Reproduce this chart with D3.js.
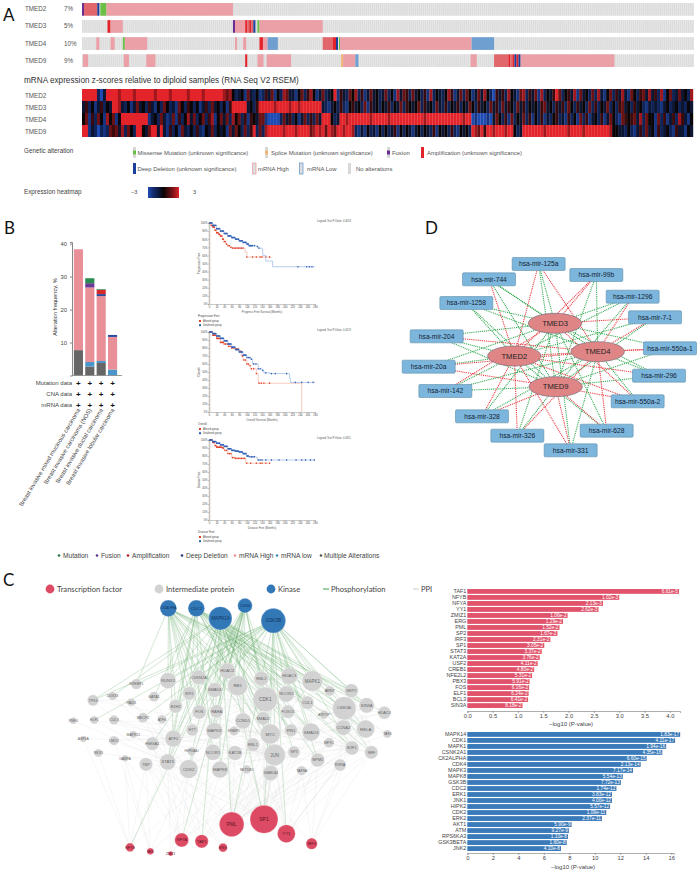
<!DOCTYPE html>
<html>
<head>
<meta charset="utf-8">
<script src="https://cdn.jsdelivr.net/npm/d3@7"></script>
<style>
body{margin:0;background:#fff;}
text{font-family:"Liberation Sans",Arial,sans-serif;}
.lato text, text.lato{font-family:Lato,"Liberation Sans",sans-serif;}
</style>
</head>
<body>
<svg id="fig" width="699" height="875"></svg>
<script>
// ---- panel A data
var genes=["TMED2","TMED3","TMED4","TMED9"];
var genePct=["7%","5%","10%","9%"];
var sampleCount=300;
// runs along the samples: start,end,type
var runsTMED2=[[0,1,"F"],[1,7.5,"P"],[7.5,8.5,"D"],[9,12,"M"],[12,74,"H"]];
var runsTMED3=[[12.5,14,"A"],[14,20,"H"],[74,75,"F"],[75,80,"H"],[80,81,"A"],[81,82,"P"],[82,83,"A"],[83,84,"P"],[84,85,"D"],[86,87,"M"],[87,118,"H"]];
var runsTMED4=[[7,8.5,"H"],[14,16,"H"],[20,21,"M"],[21,32,"H"],[75,76,"H"],[79,80.5,"H"],[87,88.7,"A"],[88.7,91,"H"],[91,96,"L"],[118,123,"P"],[123,124.5,"A"],[124.5,125.5,"D"],[126,126.5,"M"],[126.5,191,"H"],[191,202,"L"]];
var runsTMED9=[[0.5,3,"H"],[20.5,23,"H"],[31.5,36,"H"],[80,81,"A"],[86,89,"H"],[90.5,102.5,"H"],[127,128,"S"],[128,134,"H"],[134,135.5,"L"],[190.5,193.5,"H"],[202,209,"P"],[209,210,"A"],[210,211,"P"],[211,212,"A"],[212,213,"D"],[213,214,"A"],[214,215,"D"],[215,261,"H"]];
var allRuns=[runsTMED2,runsTMED3,runsTMED4,runsTMED9];

// expression levels per column, 0 = -3 ... 8 = +3
var heatTMED2="8888820388"+"8878888788"+"8888788887"+"8888878888"+"7888888767"+"4234163241"+"2536142763"+"3146257413"+"6234815326"+"4725136342"+"3624173652"+"6342517243"+"2475136264"+"1363742053"+"5274316725"+"3617243586"+"2453716342"+"6273146253"+"7316425637"+"3527146236"+"3427";
var heatTMED3="3524135243"+"8873241363"+"4253142642"+"3164254241"+"3526342415"+"8888834258"+"8888788887"+"8878888888"+"3213425214"+"5342615342"+"4352436254"+"3462534263"+"2524352436"+"4253426352"+"6354263524"+"3425634253"+"5264253426"+"2524362425"+"6342534213"+"2321342342"+"3243";
var heatTMED4="4615264174"+"6148888888"+"8813426312"+"6152473624"+"6257146362"+"7462515436"+"6100002635"+"2413625263"+"8884238878"+"8888887888"+"8878888888"+"8888788888"+"8888888788"+"0100010364"+"2516243625"+"1425132452"+"3152416251"+"3425136421"+"6545637264"+"4162513527"+"5314";
var heatTMED9="8813202126"+"5637264288"+"4368838315"+"2416324252"+"1436243416"+"3642625826"+"2788888788"+"8788886787"+"8687688788"+"7213142314"+"2423514243"+"1342432514"+"3425214342"+"8768588788"+"8788423888"+"8888788888"+"8878888788"+"8888887443"+"3242135263"+"4152342153"+"3143";
var heatRows=[heatTMED2,heatTMED3,heatTMED4,heatTMED9];

// ---- panel B data
var cancerTypes=["Breast invasive mixed mucinous carcinoma","Breast invasive carcinoma (NOS)","Breast invasive ductal carcinoma","Breast invasive lobular carcinoma"];
var altMultiple=[7.7,2.7,3.8,0];
var altLow=[0,1.4,0.6,1.8];
var altHigh=[30.6,22.6,19.7,9.9];
var altDeep=[0,0,0.6,0.6];
var altAmp=[0,0,1.3,0];
var altFusion=[0,1.3,0,0];
var altMutation=[0,1.5,0.2,0];
var freqTicks=[10,20,30,40];
var dataRows=["Mutation data","CNA data","mRNA data"];

var kmProgAltered=[[0,100],[5,97],[10,95],[15,91],[20,88],[25,86],[30,84],[35,80],[40,77],[45,74],[50,72],[55,70],[60,69],[90,69],[95,64],[100,58],[165,58]];
var kmProgUnaltered=[[0,100],[10,97],[20,93],[30,90],[40,87],[50,84],[60,82],[70,80],[80,78],[90,76],[100,74],[105,72],[125,71],[130,69],[140,68],[142,60],[150,53],[168,46],[280,46]];
var kmOverAltered=[[0,100],[10,96],[20,92],[30,87],[40,85],[50,82],[60,80],[70,79],[80,76],[85,70],[90,65],[100,60],[105,58],[110,54],[120,54],[125,48],[130,40],[131,36],[245,36],[245,0]];
var kmOverUnaltered=[[0,100],[10,98],[20,95],[30,92],[40,89],[50,85],[60,81],[70,78],[80,75],[90,71],[100,68],[110,66],[115,60],[125,60],[130,54],[140,52],[145,49],[160,48],[210,48],[213,42],[215,37],[280,37]];
var kmFreeAltered=[[0,100],[10,97],[15,93],[20,91],[35,90],[40,87],[50,83],[60,78],[70,77],[95,77],[97,71],[160,71]];
var kmFreeUnaltered=[[0,100],[10,98],[20,96],[30,94],[40,92],[50,89],[60,87],[70,86],[80,85],[90,83],[100,80],[105,79],[125,78],[128,75],[280,75]];
var censorProgAltered=[2,4,6,8,10,12,14,16,18,20,22,24,26,28,30,32,34,36,38,40,43,46,50,54,58,62,66,70,74,78,82,86,90,100,115,125,135,140,150,160];
var censorProgUnaltered=[2,4,6,8,10,12,14,16,18,20,22,24,26,28,30,32,34,36,38,40,42,44,46,48,50,52,54,56,58,60,62,64,66,68,70,72,74,76,78,80,82,84,86,88,90,92,94,96,98,100,102,104,106,108,110,112,115,120,128,132,235,258,265,272];
var censorOverAltered=[2,4,6,8,10,12,14,16,18,20,22,24,26,28,30,32,34,36,38,40,44,48,52,56,60,64,68,72,76,80,84,88,92,96,100,104,108,112,118,125,132,138,145,160];
var censorOverUnaltered=[2,4,6,8,10,12,14,16,18,20,22,24,26,28,30,32,34,36,38,40,42,44,46,48,50,52,54,56,58,60,62,64,66,68,70,72,74,76,78,80,82,84,86,88,90,92,94,96,98,100,104,108,112,118,124,130,135,142,150,165,175,205,228,245,262,275];
var censorFreeAltered=[2,4,6,8,10,12,14,16,18,20,22,24,26,28,30,32,34,36,38,42,46,50,54,58,62,66,70,74,78,82,86,90,94,100,110,125,135,140,150,160];
var censorFreeUnaltered=[2,4,6,8,10,12,14,16,18,20,22,24,26,28,30,32,34,36,38,40,42,44,46,48,50,52,54,56,58,60,62,64,66,68,70,72,74,76,78,80,82,84,86,88,90,92,94,96,98,100,102,104,108,112,116,120,130,135,140,150,165,185,205,230,245,255,268,278];
var kmTitles=["Progression Free","Overall","Disease Free"];
var kmAxisTitles=["Progress Free Survival (Months)","Overall Survival (Months)","Disease Free (Months)"];
var kmPvalues=["Logrank Test P-Value: 0.0053","Logrank Test P-Value: 0.0219","Logrank Test P-Value: 0.0311"];

// ---- panel C data (layout units are those of the network drawing)
var kinNames=["CK2ALPHA","CDC2","MAPK14","CDK4","GSK3B"];
var kinX=[505,589,661,735,820];
var kinY=[130,130,160,122,167];
var kinR=[25,25,35,22,37];
var tfNames=["PML","SP1","YY1","NFYA","TAF1","ERG","IRF3","NFYB","NFX","ZMIZ1"];
var tfX=[695,792,859,545,605,669,935,390,451,512];
var tfY=[778,763,806,825,829,848,836,847,859,866];
var tfR=[37,42,27,21,20,13,17,13,10,7];
var midNames=["RUNX1","CDKN2A","HDAC2","RB1","RBL2","HDAC3","MAPK1","SREBF1","SPI1","SMAD4","ARNT","SKP2","CDK1","NCOR2","TP63","DDX3X","PADI1","GATA1","EZH2","CUL1","CSNK2A1","SIN3A","HDAC4","FOS","RARA","FOXO1","ATF7IP","RNF4","ELF1","CUL3","MECP2","ATF6","CCND1","SMAD2","CCNA2","RELA","TAF4","HTT","MAPK3","HSBP1","MYC","PIN1","SMAD3","ASF1A","LMO2","MAPK11","HMGA1","ATF2","RBL1","NFYC","E2F1","SRF","NKX3","GABPA","HSP90AA1","NCOR1","KAT2B","JUN","SP3","TBP","STAT3","NPM1","RXRA","CDK2","MAPK8","SETDB1","SMARCA4","TAF9A"];
var midX=[504,596,682,713,784,868,937,409,568,644,989,1054,796,859,279,338,394,462,527,922,1033,1100,1153,598,650,864,972,220,283,342,429,486,729,789,1030,1097,1162,577,643,702,811,873,933,250,342,400,457,520,759,987,1056,1114,295,375,575,639,705,824,882,438,503,953,1020,566,660,740,812,905];
var midY=[347,337,318,362,341,333,348,357,385,375,378,377,403,387,406,393,412,395,424,413,430,421,443,441,439,440,449,467,465,465,458,463,468,460,488,492,507,495,498,498,507,496,501,522,527,508,536,521,539,533,549,562,564,580,559,562,564,570,561,598,591,585,600,612,614,613,624,617];
var midR=[24,22,24,30,22,25,31,16,20,22,15,21,37,24,17,13,12,15,20,20,35,23,19,21,20,20,13,10,12,14,15,13,24,20,23,27,12,18,25,14,30,19,27,10,14,11,20,25,20,15,21,20,12,10,13,24,22,32,18,20,24,21,18,28,25,13,23,14];
// phosphorylation edges, kinase -> targets
var phosCK2=["SREBF1","RUNX1","CDKN2A","SPI1","EZH2","FOS","RB1","RARA","ATF2","HTT","MAPK3","HDAC2","SMAD4","CDK1","MYC","JUN","HDAC3","CUL1","MAPK1","SKP2","RELA","SIN3A"];
var phosCDC2=["GATA1","RUNX1","SPI1","EZH2","FOS","ATF2","STAT3","NCOR1","RB1","CDK1","MYC","JUN","HDAC3","NCOR2","CUL1","MAPK1","SKP2","CSNK2A1","HDAC4","PIN1","SMAD3","E2F1","SRF","RELA"];
var phosMAPK14=["TP63","DDX3X","RUNX1","FOS","EZH2","ATF2","STAT3","CDK2","MAPK3","MAPK8","RB1","CDK1","MYC","JUN","SMAD3","SMAD2","PIN1","NCOR2","HDAC3","CUL1","MAPK1","CSNK2A1","SIN3A","E2F1","NPM1","SP1","PML","TAF1"];
var phosCDK4=["HDAC2","SMAD4","RARA","FOS","MAPK3","ATF2","HMGA1","STAT3","CDK2","MAPK8","RB1","RBL2","CDK1","CCND1","MYC","SP3","NFYA","NFYB"];
var phosGSK3B=["TP63","ELF1","SREBF1","RUNX1","GATA1","MECP2","ATF6","CDKN2A","HDAC2","RB1","SMAD4","FOS","HDAC3","MAPK1","CUL1","SKP2","CSNK2A1","SIN3A","RELA","MYC","SP1","JUN","PML","SMAD3","NCOR2","NPM1","SRF","E2F1","YY1"];
var phosLinks=[phosCK2,phosCDC2,phosMAPK14,phosCDK4,phosGSK3B];
// ppi edges, hub -> partners
var ppiHubs=["SP1","PML","YY1","NFYA","TAF1","ERG","IRF3","NFYB","NFX","ZMIZ1","CDK1","MYC","JUN","RB1","CSNK2A1","MAPK1","SMAD3","CDK2","STAT3","ATF2","RELA","E2F1"];
var ppiPartners=[
 ["JUN","MYC","CDK1","CDK2","STAT3","SMAD3","SMAD2","NCOR1","NCOR2","HDAC2","HDAC3","RELA","E2F1","SP3","TBP","ATF2","KAT2B","MAPK8","MAPK3","RB1","NPM1","RXRA","SMARCA4","SETDB1","TAF9A","SRF"],
 ["JUN","MYC","STAT3","HDAC2","SMAD3","SMARCA4","SETDB1","RELA","NPM1","TBP","ATF2","RXRA","CDK2","TAF9A","E2F1","KAT2B"],
 ["MYC","JUN","RELA","SMARCA4","NPM1","RXRA","E2F1","SRF","TAF9A","SETDB1","HDAC2"],
 ["TBP","STAT3","GABPA","CDK2","MAPK8","SP3","HMGA1","NFYC"],
 ["TBP","STAT3","CDK2","MAPK8","SMARCA4","E2F1","JUN","MYC"],
 ["STAT3","JUN","SETDB1","SMARCA4","TBP"],
 ["RXRA","NPM1","TAF9A","SRF","E2F1","SETDB1"],
 ["NKX3","GABPA","TBP","MAPK8","ASF1A","STAT3"],
 ["TBP","LMO2","CDK2","GABPA","SETDB1"],
 ["STAT3","CDK2","SETDB1"],
 ["RB1","MYC","JUN","FOS","NCOR1","SMAD3","RBL1","RBL2","CCND1","E2F1","SKP2","CUL1","HDAC3","CCNA2","PIN1","MAPK3","ATF2","SP3","TP63"],
 ["MAPK1","MAPK8","JUN","SMAD3","SMAD4","PIN1","HDAC2","HDAC4","KAT2B","RELA","SP3","E2F1","SRF","FOS","HTT","HMGA1","ATF6","TP63","CUL3","CSNK2A1"],
 ["FOS","ATF2","SMAD4","SMAD2","MAPK3","MAPK8","RELA","NCOR1","HDAC2","HTT","HMGA1","STAT3","RARA","SP3","NFYC","E2F1","RXRA","ELF1","CUL3"],
 ["HDAC2","RBL2","RBL1","RUNX1","EZH2","HDAC3","E2F1","SMAD2","CCND1","NCOR2","CUL1"],
 ["SRF","SIN3A","SP3","RELA","HDAC4","TAF4","NFYC","PIN1","E2F1","FOXO1","CCNA2","NPM1","ATF7IP","RXRA"],
 ["SMAD2","SMAD3","HDAC3","SKP2","ARNT","FOXO1","CUL1","RBL2","ATF7IP","SMAD4","TAF4"],
 ["SMAD4","SMAD2","HDAC4","FOXO1","SIN3A","E2F1","CUL1"],
 ["TBP","RB1","E2F1","CCNA2","CCND1","HSP90AA1","HMGA1","PADI1","DDX3X"],
 ["GATA1","MECP2","HMGA1","TP63","EZH2","LMO2","MAPK11","RNF4","ELF1","HSP90AA1","NKX3"],
 ["HMGA1","GATA1","MAPK11","RARA","HSBP1","CUL3","PADI1","LMO2","ASF1A"],
 ["HDAC2","HSBP1","SIN3A","SRF","SKP2","SMARCA4","NCOR2","TAF4"],
 ["NFYC","CCNA2","SIN3A","SRF","TAF4","SKP2","NPM1"]
];

// ---- right hand bar charts
var tfBarNames=["TAF1","NFYB","NFYA","YY1","ZMIZ1","ERG","PML","SP2","IRF3","SP1","STAT3","KAT2A","USF2","CREB1","NFE2L2","PBX3","FOS","ELF1","BCL3","SIN3A"];
var tfBarValues=[4.18,3.0,2.68,2.59,1.98,1.89,1.82,1.78,1.64,1.52,1.47,1.43,1.39,1.32,1.28,1.23,1.22,1.21,1.20,1.09];
var tfBarLabels=["6.61e-5","1.02e-3","2.13e-3","2.62e-3","1.06e-2","1.29e-2","1.52e-2","1.67e-2","2.31e-2","3.05e-2","3.37e-2","3.76e-2","4.11e-2","4.80e-2","5.31e-2","5.91e-2","6.16e-2","6.24e-2","6.41e-2","8.18e-2"];
var kinBarNames=["MAPK14","CDK1","MAPK1","CSNK2A1","CK2ALPHA","CDK4","MAPK3","MAPK8","GSK3B","CDC2","ERK1","JNK1","HIPK2","CDK2","ERK2","AKT1","ATM","RPS6KA3","GSK3BETA","JNK2"];
var kinBarValues=[16.7,16.3,15.6,15.3,14.07,13.6,13.0,12.2,12.05,11.7,11.35,11.35,11.2,10.9,10.56,8.18,7.97,7.9,7.8,7.35];
var kinBarLabels=["1.83e-17","4.11e-17","1.94e-16","4.35e-16","6.60e-15","2.13e-14","7.17e-14","5.54e-13","7.72e-13","1.74e-12","3.83e-12","4.00e-12","5.57e-12","1.09e-11","2.37e-11","5.90e-9","9.27e-9","1.10e-8","1.60e-8","4.10e-8"];

// ---- panel D data
var mirNames=["hsa-mir-125a","hsa-mir-744","hsa-mir-99b","hsa-mir-1296","hsa-mir-1258","hsa-mir-7-1","hsa-mir-204","hsa-mir-550a-1","hsa-mir-20a","hsa-mir-296","hsa-mir-142","hsa-mir-550a-2","hsa-mir-328","hsa-mir-628","hsa-mir-326","hsa-mir-331"];
var mirX=[416,267,589,698,199,765,110,810,86,777,136,713,246,620,352,512];
var mirY=[132,178,165,230,249,292,349,385,440,467,513,544,589,632,647,691];
var hubNames=["TMED3","TMED2","TMED4","TMED9"];
var hubX=[465,343,593,467];
var hubY=[310,408,395,500];
// edge colour for every miRNA against TMED3,TMED2,TMED4,TMED9
var mirEdges=["grrg","grgg","rrgg","ggrg","gggg","rgrg","ggrg","grrg","ggrr","grgg","rggg","rrgr","grgr","ggrr","grrg","grgr"];

var svg=d3.select("#fig");

function panelLetter(t,x,y){
  svg.append("text").attr("x",x).attr("y",y).attr("font-size",17).attr("class","lato").attr("fill","#111").text(t);
}
panelLetter("A",3,21);panelLetter("B",4,234);panelLetter("C",3,586);panelLetter("D",425,234);

// ======== A
var runColor={F:"#6a2c91",A:"#e3222a",P:"#e0666c",H:"#eaa0a6",L:"#6f9fd0",D:"#1a3f9c",M:"#6cbf45",S:"#eeb678"};
var xS=d3.scaleLinear().domain([0,sampleCount]).range([82,694]);
var yTrack=d3.scaleBand().domain(genes).range([3,67]).paddingInner(0.26).paddingOuter(0);
var gOnco=svg.append("g");
genes.forEach(function(g,i){
  var y=yTrack(g),h=yTrack.bandwidth();
  gOnco.append("text").attr("x",25).attr("y",y+h/2+2).attr("font-size",6.3).attr("fill","#555").text(g);
  gOnco.append("text").attr("x",64).attr("y",y+h/2+2).attr("font-size",6.3).attr("fill","#555").text(genePct[i]);
  gOnco.append("rect").attr("x",xS(0)).attr("y",y).attr("width",xS(sampleCount)-xS(0)).attr("height",h).attr("fill","#efefef");
  gOnco.selectAll("rect.s"+i).data(d3.range(sampleCount)).enter().append("rect").attr("class","s"+i)
    .attr("x",function(d){return xS(d);}).attr("y",y).attr("width",1.6).attr("height",h).attr("fill","#dcdcdc");
  gOnco.selectAll("rect.r"+i).data(allRuns[i]).enter().append("rect").attr("class","r"+i)
    .attr("x",function(d){return xS(d[0]);}).attr("y",y)
    .attr("width",function(d){return xS(d[1])-xS(d[0]);}).attr("height",h)
    .attr("fill",function(d){return runColor[d[2]];});
});
svg.append("text").attr("x",24).attr("y",83).attr("font-size",8.2).attr("fill","#333")
  .text("mRNA expression z-scores relative to diploid samples (RNA Seq V2 RSEM)");

var heatCols=heatRows[0].length;
var xH=d3.scaleLinear().domain([0,heatCols]).range([82,693]);
var yH=d3.scaleBand().domain(genes).range([89,137]);
var zStops=[-3,-2,-1,0,1,2,3];
var zColor=d3.scaleLinear().domain(zStops).range(["#1f4cb3","#142c6e","#0c1a40","#0a0506","#4a0d10","#8a1418","#e3242a"]);
genes.forEach(function(g,i){
  svg.append("text").attr("x",25).attr("y",yH(g)+8.5).attr("font-size",6.3).attr("fill","#555").text(g);
  svg.selectAll("rect.h"+i).data(heatRows[i].split("")).enter().append("rect").attr("class","h"+i)
    .attr("x",function(d,j){return xH(j);}).attr("y",yH(g))
    .attr("width",xH(1)-xH(0)+0.2).attr("height",yH.bandwidth())
    .attr("fill",function(d){return zColor((+d-4)*0.75);});
});

// legend of A
var legTexts=["Missense Mutation (unknown significance)","Splice Mutation (unknown significance)","Fusion","Amplification (unknown significance)","Deep Deletion (unknown significance)","mRNA High","mRNA Low","No alterations"];
var legTypes=["M","S","F","A","D","H","L","N"];
var legX=[133,265,387,421,133,253,300,348];
var legTextX=[137.5,271,392,427,137.5,258,307,356];
var legRow=[0,0,0,0,1,1,1,1];
var legY=d3.scaleOrdinal().domain([0,1]).range([147,163]);
var gLeg=svg.append("g");
gLeg.append("text").attr("x",24).attr("y",153).attr("font-size",6.3).attr("fill","#444").text("Genetic alteration");
legTexts.forEach(function(t,i){
  var y=legY(legRow[i]);
  gLeg.append("rect").attr("x",legX[i]).attr("y",y).attr("width",3).attr("height",11).attr("fill","#d8d8d8");
  if(legTypes[i]=="H"||legTypes[i]=="L"){
    gLeg.append("rect").attr("x",legX[i]-0.5).attr("y",y).attr("width",3.5).attr("height",11)
      .attr("fill","#ddd").attr("stroke",runColor[legTypes[i]]).attr("stroke-width",0.8);
  }else if(legTypes[i]!="N"){
    var h=(legTypes[i]=="A"||legTypes[i]=="D")?11:4;
    gLeg.append("rect").attr("x",legX[i]).attr("y",y+(11-h)/2).attr("width",3).attr("height",h).attr("fill",runColor[legTypes[i]]);
  }
  gLeg.append("text").attr("x",legTextX[i]).attr("y",y+8).attr("font-size",5.9).attr("fill","#555").text(t);
});
gLeg.append("text").attr("x",24).attr("y",194).attr("font-size",6.3).attr("fill","#444").text("Expression heatmap");
var grad=svg.append("defs").append("linearGradient").attr("id","zgrad");
zStops.forEach(function(z){
  grad.append("stop").attr("offset",((z+3)/6*100)+"%").attr("stop-color",zColor(z));
});
gLeg.append("rect").attr("x",148).attr("y",187).attr("width",31).attr("height",11).attr("fill","url(#zgrad)");
gLeg.append("text").attr("x",131).attr("y",194).attr("font-size",5.5).attr("fill","#444").text("\u22123");
gLeg.append("text").attr("x",193).attr("y",194).attr("font-size",5.5).attr("fill","#444").text("3");

// ======== B stacked bars
var stackKeys=["multiple","low","high","deep","amp","fusion","mutation"];
var stackCols={multiple:"#666666",low:"#4a95c9",high:"#e88f98",deep:"#2a4a9e",amp:"#d62a2a",fusion:"#6a3a95",mutation:"#2a8a50"};
var stackTable=cancerTypes.map(function(c,i){
  return {name:c,multiple:altMultiple[i],low:altLow[i],high:altHigh[i],deep:altDeep[i],amp:altAmp[i],fusion:altFusion[i],mutation:altMutation[i]};
});
var xB=d3.scaleBand().domain(cancerTypes).range([72.5,118.5]).paddingInner(0.2).paddingOuter(0.12);
var yB=d3.scaleLinear().domain([0,40.5]).range([375.5,242]);
var gB=svg.append("g");
gB.selectAll("g.layer").data(d3.stack().keys(stackKeys)(stackTable)).enter().append("g").attr("class","layer")
  .attr("fill",function(d){return stackCols[d.key];})
  .selectAll("rect").data(function(d){return d;}).enter().append("rect")
  .attr("x",function(d){return xB(d.data.name);}).attr("width",xB.bandwidth())
  .attr("y",function(d){return yB(d[1]);}).attr("height",function(d){return yB(d[0])-yB(d[1]);});
var axB=gB.append("g").attr("transform","translate(72,0)").call(d3.axisLeft(yB).tickValues(freqTicks).tickSize(2).tickFormat(d3.format("d")));
axB.selectAll("text").attr("font-size",5.8).attr("fill","#444");
axB.selectAll("path,line").attr("stroke","#888");
gB.append("line").attr("x1",72).attr("x2",122).attr("y1",375.5).attr("y2",375.5).attr("stroke","#888").attr("stroke-width",0.8);
gB.append("text").attr("transform","translate(57,307) rotate(-90)").attr("text-anchor","middle").attr("font-size",5.6).attr("fill","#333").text("Alteration frequency, %");
var yRows=d3.scalePoint().domain(dataRows).range([383,405]);
dataRows.forEach(function(r){
  gB.append("text").attr("x",72).attr("y",yRows(r)+2).attr("text-anchor","end").attr("font-size",6).attr("fill","#444").text(r);
  gB.selectAll("text.p"+r[0]).data(cancerTypes).enter().append("text").attr("class","p"+r[0])
    .attr("x",function(c){return xB(c)+xB.bandwidth()/2;}).attr("y",yRows(r)+3).attr("text-anchor","middle")
    .attr("font-size",8).attr("font-weight","bold").attr("fill","#111").text("+");
});
gB.selectAll("text.ct").data(cancerTypes).enter().append("text").attr("class","ct")
  .attr("transform",function(c){return "translate("+(xB(c)+xB.bandwidth()/2+2)+",410) rotate(-59)";})
  .attr("text-anchor","end").attr("font-size",5.9).attr("fill","#444").text(function(c){return c;});

// KM plots
var kmCurves=[[kmProgAltered,kmProgUnaltered],[kmOverAltered,kmOverUnaltered],[kmFreeAltered,kmFreeUnaltered]];
var kmCensors=[[censorProgAltered,censorProgUnaltered],[censorOverAltered,censorOverUnaltered],[censorFreeAltered,censorFreeUnaltered]];
var kmTops=[223,332,440],kmBottoms=[304,412,520];
var kmPalette=[{line:"#f3b3a0",mark:"#e0402a"},{line:"#9cb8e6",mark:"#2f5fb4"}];
var xKM=d3.scaleLinear().domain([0,280]).range([209,315]);
kmCurves.forEach(function(pair,k){
  var yKM=d3.scaleLinear().domain([0,100]).range([kmBottoms[k],kmTops[k]]);
  var g=svg.append("g");
  var ax=g.append("g").attr("transform","translate(0,"+kmBottoms[k]+")")
    .call(d3.axisBottom(xKM).tickValues(d3.range(0,281,20)).tickSize(1).tickFormat(d3.format("d")));
  ax.selectAll("text").attr("font-size",2.6).attr("dy",0).attr("y",3.5).attr("fill","#444");
  ax.selectAll("path,line").attr("stroke","#777").attr("stroke-width",0.4);
  var ay=g.append("g").attr("transform","translate(209,0)")
    .call(d3.axisLeft(yKM).tickValues(d3.range(0,101,10)).tickSize(1).tickFormat(function(d){return d+"%";}));
  ay.selectAll("text").attr("font-size",2.6).attr("x",-1.5).attr("fill","#444");
  ay.selectAll("line").attr("stroke","#777").attr("stroke-width",0.4);
  ay.select("path").attr("stroke","#c9c5bc").attr("stroke-width",1.6);
  var line=d3.line().curve(d3.curveStepAfter).x(function(d){return xKM(d[0]);}).y(function(d){return yKM(d[1]);});
  pair.forEach(function(curve,c){
    g.append("path").attr("d",line(curve)).attr("fill","none").attr("stroke",kmPalette[c].line).attr("stroke-width",0.7);
    var bis=d3.bisector(function(d){return d[0];}).right;
    g.selectAll("rect.c"+c).data(kmCensors[k][c]).enter().append("rect").attr("class","c"+c)
      .attr("x",function(m){return xKM(m)-0.6;}).attr("width",1.2).attr("height",1.5)
      .attr("y",function(m){return yKM(curve[Math.max(0,bis(curve,m)-1)][1])-0.75;})
      .attr("fill",kmPalette[c].mark);
  });
  g.append("text").attr("x",262).attr("y",kmBottoms[k]+8.5).attr("text-anchor","middle").attr("font-size",2.8).attr("fill","#555").text(kmAxisTitles[k]);
  g.append("text").attr("transform","translate(200,"+((kmTops[k]+kmBottoms[k])/2)+") rotate(-90)").attr("text-anchor","middle").attr("font-size",2.8).attr("fill","#555").text(kmTitles[k]);
  g.append("text").attr("x",317).attr("y",kmTops[k]-1).attr("font-size",2.6).attr("fill","#555").text(kmPvalues[k]);
  g.append("text").attr("x",198).attr("y",kmBottoms[k]+13).attr("font-size",2.8).attr("fill","#444").text(kmTitles[k]);
  ["Altered group","Unaltered group"].forEach(function(t,c){
    var ly=kmBottoms[k]+17+c*4.2;
    g.append("rect").attr("x",199).attr("y",ly-1).attr("width",2).attr("height",2).attr("fill",kmPalette[c].mark);
    g.append("text").attr("x",203).attr("y",ly+1).attr("font-size",2.6).attr("fill","#444").text(t);
  });
});

// dot legend of B
var bLegNames=["Mutation","Fusion","Amplification","Deep Deletion","mRNA High","mRNA low","Multiple Alterations"];
var bLegCols=["#1f7a4a","#5a3a90","#b0202a","#1f3a80","#e88f98","#3f8fb0","#555555"];
var bLegX=[59,97,128,182,235,277,321];
var gBL=svg.append("g");
bLegNames.forEach(function(t,i){
  gBL.append("circle").attr("cx",bLegX[i]).attr("cy",555.5).attr("r",1.3).attr("fill",bLegCols[i]);
  gBL.append("text").attr("x",bLegX[i]+(i==6?3:4)).attr("y",558).attr("font-size",6.6).attr("fill","#444").text(t);
});

// ======== C network
var xC=d3.scaleLinear().domain([0,1200]).range([0,400]);
var yC=d3.scaleLinear().domain([0,930]).range([565,875]);
var rC=d3.scaleLinear().domain([0,30]).range([0,10]);
var nodeMap={};
function addNodes(names,xs,ys,rs,kind){
  names.forEach(function(n,i){nodeMap[n]={name:n,x:xC(xs[i]),y:yC(ys[i]),r:rC(rs[i]),kind:kind};});
}
addNodes(midNames,midX,midY,midR,"mid");
addNodes(kinNames,kinX,kinY,kinR,"kin");
addNodes(tfNames,tfX,tfY,tfR,"tf");
var gC=svg.append("g");
var ppiData=[];
ppiHubs.forEach(function(h,i){ppiPartners[i].forEach(function(p){ppiData.push([nodeMap[h],nodeMap[p]]);});});
gC.selectAll("line.ppi").data(ppiData).enter().append("line").attr("class","ppi")
  .attr("x1",function(d){return d[0].x;}).attr("y1",function(d){return d[0].y;})
  .attr("x2",function(d){return d[1].x;}).attr("y2",function(d){return d[1].y;})
  .attr("stroke","#d4d4d4").attr("stroke-width",0.45).attr("opacity",0.4);
var phosData=[];
kinNames.forEach(function(k,i){phosLinks[i].forEach(function(p){phosData.push([nodeMap[k],nodeMap[p]]);});});
gC.selectAll("line.phos").data(phosData).enter().append("line").attr("class","phos")
  .attr("x1",function(d){return d[0].x;}).attr("y1",function(d){return d[0].y;})
  .attr("x2",function(d){return d[1].x;}).attr("y2",function(d){return d[1].y;})
  .attr("stroke","#66ad6b").attr("stroke-width",0.5).attr("opacity",0.55);
var nodeFill={mid:"#d2d2d2",kin:"#3277b6",tf:"#dc4a63"};
var nodeData=Object.keys(nodeMap).map(function(n){return nodeMap[n];});
var nG=gC.selectAll("g.node").data(nodeData).enter().append("g").attr("class","node")
  .attr("transform",function(d){return "translate("+d.x+","+d.y+")";});
nG.append("circle").attr("r",function(d){return d.r;}).attr("fill",function(d){return nodeFill[d.kind];})
  .attr("stroke","#fff").attr("stroke-width",0.3);
nG.append("text").attr("text-anchor","middle").attr("dy","0.35em")
  .attr("fill",function(d){return d.kind=="mid"?"#666":(d.kind=="kin"?"#0f3560":"#5a1525");})
  .attr("font-size",function(d){return d.name.length>6?Math.min(3.2,2.6+d.r*0.05):Math.min(5,3+d.r*0.14);})
  .text(function(d){return d.name;});

var gCL=svg.append("g").attr("class","lato");
var cLegX=[50,159,271];
var cLegCols=["#dc4a63","#d2d2d2","#3277b6"];
var cLegNames=["Transcription factor","Intermediate protein","Kinase"];
cLegNames.forEach(function(t,i){
  gCL.append("circle").attr("cx",cLegX[i]).attr("cy",589).attr("r",4.4).attr("fill",cLegCols[i]);
  gCL.append("text").attr("x",cLegX[i]+7).attr("y",592).attr("font-size",7.6).attr("fill","#444").text(t);
});
gCL.append("line").attr("x1",323).attr("x2",329).attr("y1",589).attr("y2",589).attr("stroke","#3fa04a").attr("stroke-width",1);
gCL.append("text").attr("x",331).attr("y",592).attr("font-size",7.6).attr("fill","#444").text("Phosphorylation");
gCL.append("line").attr("x1",413).attr("x2",419).attr("y1",589).attr("y2",589).attr("stroke","#ccc").attr("stroke-width",1);
gCL.append("text").attr("x",421).attr("y",592).attr("font-size",7.6).attr("fill","#444").text("PPI");

// ======== bar charts
function hbar(names,vals,labels,color,xDomain,xRange,ticks,yTop,yBottom,fmt,axisY,titleX,titleY){
  var g=svg.append("g");
  var x=d3.scaleLinear().domain(xDomain).range(xRange);
  var step=(yBottom-yTop)/(names.length-1);
  var y=d3.scaleBand().domain(names).range([yTop-step/2,yBottom+step/2]).paddingInner(0.2);
  g.selectAll("rect").data(names).enter().append("rect")
    .attr("x",x(0)).attr("y",function(n){return y(n);})
    .attr("width",function(n,i){return x(vals[i])-x(0);}).attr("height",y.bandwidth()).attr("fill",color);
  g.selectAll("text.val").data(names).enter().append("text").attr("class","val")
    .attr("x",function(n,i){return x(vals[i])-1;}).attr("y",function(n){return y(n)+y.bandwidth()/2;})
    .attr("dy","0.35em").attr("text-anchor","end").attr("font-size",4.8).attr("fill","#fff")
    .text(function(n,i){return labels[i];});
  g.selectAll("text.nm").data(names).enter().append("text").attr("class","nm")
    .attr("x",x(0)-1).attr("y",function(n){return y(n)+y.bandwidth()/2;})
    .attr("dy","0.35em").attr("text-anchor","end").attr("font-size",5.4).attr("fill","#444")
    .text(function(n){return n;});
  var ax=g.append("g").attr("transform","translate(0,"+axisY+")")
    .call(d3.axisBottom(x).tickValues(ticks).tickSize(2).tickPadding(1).tickFormat(fmt));
  ax.selectAll("text").attr("font-size",5.8).attr("fill","#444");
  ax.selectAll("path,line").attr("stroke","#777").attr("stroke-width",0.6);
  g.append("text").attr("x",titleX).attr("y",titleY).attr("text-anchor","middle").attr("font-size",6).attr("fill","#444").text("\u2212log10 (P-value)");
}
hbar(tfBarNames,tfBarValues,tfBarLabels,"#e0536b",[0,4.2],[467.3,680],[0,0.5,1,1.5,2,2.5,3,3.5,4],592,705,d3.format(".1f"),711,571,726);
hbar(kinBarNames,kinBarValues,kinBarLabels,"#3a7ab8",[0,16.2],[467.3,673.8],[0,2,4,6,8,10,12,14,16],735,848,d3.format("d"),853,573,869);

// ======== D network
var xD=d3.scaleLinear().domain([0,900]).range([400,700]);
var yD=d3.scaleLinear().domain([0,750]).range([220,470]);
var gD=svg.append("g");
var edgeCols={r:"#e8343a",g:"#2fa84f"};
var dEdges=[];
mirNames.forEach(function(m,i){
  mirEdges[i].split("").forEach(function(c,j){dEdges.push({m:i,h:j,c:c});});
});
gD.selectAll("line").data(dEdges).enter().append("line")
  .attr("x1",function(d){return xD(mirX[d.m]);}).attr("y1",function(d){return yD(mirY[d.m]);})
  .attr("x2",function(d){return xD(hubX[d.h]);}).attr("y2",function(d){return yD(hubY[d.h]);})
  .attr("stroke",function(d){return edgeCols[d.c];}).attr("stroke-width",1.1).attr("stroke-dasharray","1,0.9");
var mirG=gD.selectAll("g.mir").data(mirNames).enter().append("g").attr("class","mir")
  .attr("transform",function(m,i){return "translate("+xD(mirX[i])+","+yD(mirY[i])+")";});
mirG.append("rect").attr("x",-26.5).attr("y",-6.5).attr("width",53).attr("height",13).attr("rx",1.2)
  .attr("fill","#7db6dc").attr("stroke","#5e8fab").attr("stroke-width",0.6);
mirG.append("text").attr("text-anchor","middle").attr("dy","0.35em").attr("font-size",6.7).attr("fill","#123").text(function(m){return m;});
var hubG=gD.selectAll("g.hub").data(hubNames).enter().append("g").attr("class","hub")
  .attr("transform",function(h,i){return "translate("+xD(hubX[i])+","+yD(hubY[i])+")";});
hubG.append("ellipse").attr("rx",26.7).attr("ry",10).attr("fill","#e08585").attr("stroke","#667").attr("stroke-width",0.6);
hubG.append("text").attr("text-anchor","middle").attr("dy","0.35em").attr("font-size",7.6).attr("fill","#222").text(function(h){return h;});
</script>
</body>
</html>
